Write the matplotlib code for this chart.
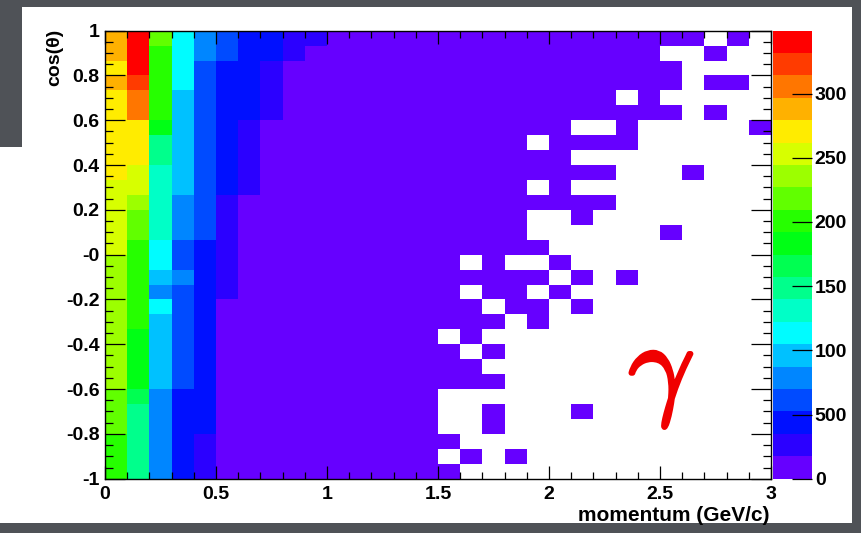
import colorsys
import numpy as np
import matplotlib
matplotlib.use("Agg")
import matplotlib.pyplot as plt
import matplotlib.patheffects as pe
from matplotlib.colors import ListedColormap, BoundaryNorm
from matplotlib.patches import Polygon
from matplotlib.ticker import MultipleLocator

# Step 1: histogram binning (momentum in GeV/c, cos(theta))
mom_min, mom_max, n_mom = 0.0, 3.0, 30
cos_min, cos_max, n_cos = -1.0, 1.0, 30
z_max = 349

# Step 2: bin contents, one list per cos(theta) row, top row (cos ~ 1) first
counts_top_down = [
    [290, 345, 215, 118, 85, 62, 50, 44, 32, 20, 15, 14, 13, 12, 11, 10, 9, 8, 7, 6, 5, 5, 4, 4, 3, 3, 2, 0, 2, 0],
    [288, 343, 202, 117, 84, 60, 48, 42, 24, 16, 15, 14, 13, 12, 11, 10, 9, 8, 7, 6, 5, 5, 4, 4, 3, 0, 0, 2, 0, 0],
    [275, 333, 200, 116, 66, 46, 38, 28, 16, 15, 15, 14, 13, 12, 11, 10, 9, 8, 7, 6, 5, 5, 4, 4, 3, 3, 0, 0, 0, 0],
    [286, 322, 198, 115, 65, 45, 37, 26, 16, 15, 15, 14, 13, 12, 11, 10, 9, 8, 7, 6, 5, 5, 4, 4, 3, 3, 0, 2, 2, 0],
    [274, 308, 196, 98, 64, 44, 36, 24, 16, 15, 15, 14, 13, 12, 11, 10, 9, 8, 7, 6, 5, 5, 4, 0, 3, 0, 0, 0, 0, 0],
    [272, 298, 194, 97, 64, 44, 36, 22, 16, 15, 15, 14, 13, 12, 11, 10, 9, 8, 7, 6, 5, 5, 4, 4, 3, 3, 0, 2, 0, 0],
    [270, 275, 180, 96, 63, 43, 30, 16, 15, 15, 15, 14, 13, 12, 11, 10, 9, 8, 7, 6, 5, 0, 0, 4, 0, 0, 0, 0, 0, 1],
    [268, 266, 152, 90, 62, 42, 28, 16, 15, 15, 15, 14, 13, 12, 11, 10, 9, 8, 7, 0, 5, 5, 4, 4, 0, 0, 0, 0, 0, 0],
    [266, 264, 150, 89, 60, 40, 26, 16, 15, 14, 15, 14, 13, 12, 11, 10, 9, 8, 7, 6, 5, 0, 0, 0, 0, 0, 0, 0, 0, 0],
    [264, 255, 135, 88, 58, 38, 24, 16, 15, 14, 15, 14, 13, 12, 11, 10, 9, 8, 7, 6, 5, 5, 4, 0, 0, 0, 2, 0, 0, 0],
    [258, 252, 132, 88, 56, 36, 22, 16, 15, 14, 15, 14, 13, 12, 11, 10, 9, 8, 7, 0, 5, 0, 0, 0, 0, 0, 0, 0, 0, 0],
    [256, 240, 126, 78, 54, 34, 16, 15, 15, 14, 15, 14, 13, 12, 11, 10, 9, 8, 7, 6, 5, 5, 4, 0, 0, 0, 0, 0, 0, 0],
    [252, 222, 124, 76, 53, 33, 16, 15, 15, 14, 15, 14, 13, 12, 11, 10, 9, 8, 7, 0, 0, 5, 0, 0, 0, 0, 0, 0, 0, 0],
    [250, 215, 123, 74, 53, 32, 16, 15, 14, 14, 15, 14, 13, 12, 11, 10, 9, 8, 7, 0, 0, 0, 0, 0, 0, 3, 0, 0, 0, 0],
    [246, 205, 118, 62, 50, 32, 16, 15, 14, 14, 15, 14, 13, 12, 11, 10, 9, 8, 7, 6, 0, 0, 0, 0, 0, 0, 0, 0, 0, 0],
    [240, 202, 112, 60, 48, 30, 16, 15, 14, 13, 15, 14, 13, 12, 11, 10, 0, 8, 0, 0, 5, 0, 0, 0, 0, 0, 0, 0, 0, 0],
    [238, 200, 98, 72, 47, 28, 15, 15, 14, 13, 15, 14, 13, 12, 11, 10, 9, 8, 7, 6, 0, 5, 0, 4, 0, 0, 0, 0, 0, 0],
    [237, 199, 85, 56, 46, 24, 15, 15, 14, 13, 15, 14, 13, 12, 11, 10, 0, 8, 7, 0, 5, 0, 0, 0, 0, 0, 0, 0, 0, 0],
    [236, 198, 115, 56, 45, 16, 15, 15, 14, 13, 15, 14, 13, 12, 11, 10, 9, 0, 7, 6, 0, 5, 0, 0, 0, 0, 0, 0, 0, 0],
    [235, 196, 97, 55, 44, 15, 15, 14, 14, 13, 15, 14, 13, 12, 11, 10, 9, 8, 0, 6, 0, 0, 0, 0, 0, 0, 0, 0, 0, 0],
    [234, 188, 96, 55, 44, 15, 15, 14, 13, 13, 15, 14, 13, 12, 11, 0, 9, 0, 0, 0, 0, 0, 0, 0, 0, 0, 0, 0, 0, 0],
    [233, 187, 95, 54, 43, 15, 15, 14, 13, 13, 15, 14, 13, 12, 11, 10, 0, 8, 0, 0, 0, 0, 0, 0, 0, 0, 0, 0, 0, 0],
    [232, 186, 95, 54, 42, 14, 15, 14, 13, 12, 15, 14, 13, 12, 11, 10, 9, 0, 0, 0, 0, 0, 0, 0, 0, 0, 0, 0, 0, 0],
    [230, 184, 94, 53, 41, 14, 14, 14, 13, 12, 15, 14, 13, 12, 11, 10, 9, 8, 0, 0, 0, 0, 0, 0, 0, 0, 0, 0, 0, 0],
    [220, 162, 76, 45, 40, 14, 14, 14, 13, 12, 15, 14, 13, 12, 11, 0, 0, 0, 0, 0, 0, 0, 0, 0, 0, 0, 0, 0, 0, 0],
    [216, 152, 75, 38, 38, 13, 14, 13, 13, 12, 15, 14, 13, 12, 11, 0, 0, 8, 0, 0, 0, 5, 0, 0, 0, 0, 0, 0, 0, 0],
    [212, 150, 77, 44, 36, 13, 14, 13, 13, 12, 15, 14, 13, 12, 11, 0, 0, 8, 0, 0, 0, 0, 0, 0, 0, 0, 0, 0, 0, 0],
    [208, 148, 74, 43, 30, 12, 14, 13, 12, 12, 15, 14, 13, 12, 11, 10, 0, 0, 0, 0, 0, 0, 0, 0, 0, 0, 0, 0, 0, 0],
    [205, 146, 73, 42, 25, 12, 13, 13, 12, 12, 15, 14, 13, 12, 11, 0, 9, 0, 7, 0, 0, 0, 0, 0, 0, 0, 0, 0, 0, 0],
    [206, 145, 75, 42, 22, 12, 13, 13, 12, 12, 15, 14, 13, 12, 11, 10, 0, 0, 0, 0, 0, 0, 0, 0, 0, 0, 0, 0, 0, 0],
]

x_ticks = [0, 0.5, 1, 1.5, 2, 2.5, 3]
x_tick_labels = ["0", "0.5", "1", "1.5", "2", "2.5", "3"]
y_ticks = [-1, -0.8, -0.6, -0.4, -0.2, 0, 0.2, 0.4, 0.6, 0.8, 1]
y_tick_labels = ["-1", "-0.8", "-0.6", "-0.4", "-0.2", "-0", "0.2", "0.4", "0.6", "0.8", "1"]
z_ticks = [0, 50, 100, 150, 200, 250, 300]
z_tick_labels = ["0", "500", "100", "150", "200", "250", "300"]

# Step 3: ROOT-like palette, 20 contour levels violet -> red
n_levels = 20
pal = [colorsys.hls_to_rgb((264 * (1 - k / (n_levels - 1))) / 360.0, 0.5, 1.0) for k in range(n_levels)]
cmap = ListedColormap(pal)
norm = BoundaryNorm(np.linspace(0, z_max, n_levels + 1), n_levels)

counts = np.array(counts_top_down, dtype=float)[::-1]
counts = np.ma.masked_where(counts <= 0, counts)
x_edges = np.linspace(mom_min, mom_max, n_mom + 1)
y_edges = np.linspace(cos_min, cos_max, n_cos + 1)

plt.rcParams['font.family'] = ['Liberation Sans', 'DejaVu Sans']
plt.rcParams['font.weight'] = 'bold'

W, H = 861, 533
fig = plt.figure(figsize=(W / 100, H / 100), dpi=100, facecolor='#4f5257')

# white slide canvas behind the plot
canvas_px = [(22, 7), (852, 7), (852, 523), (0, 523), (0, 147), (22, 147)]
fig.patches.append(Polygon([(x / W, 1 - y / H) for x, y in canvas_px], closed=True,
                           transform=fig.transFigure, facecolor='white', edgecolor='none', zorder=-10))

left, right, top, bottom = 105, 771, 30.7, 478.7
ax = fig.add_axes([left / W, 1 - bottom / H, (right - left) / W, (bottom - top) / H])
mesh = ax.pcolormesh(x_edges, y_edges, counts, cmap=cmap, norm=norm)
ax.set_xlim(mom_min, mom_max)
ax.set_ylim(cos_min, cos_max)
ax.set_facecolor('white')

ax.set_xticks(x_ticks)
ax.set_xticklabels(x_tick_labels)
ax.set_yticks(y_ticks)
ax.set_yticklabels(y_tick_labels)
ax.xaxis.set_minor_locator(MultipleLocator(0.1))
ax.yaxis.set_minor_locator(MultipleLocator(0.05))
ax.tick_params(which='both', direction='in', top=True, right=True, width=0.9, labelsize=14)
ax.tick_params(axis='x', which='major', length=9.6, pad=5)
ax.tick_params(axis='x', which='minor', length=4.8)
ax.tick_params(axis='y', which='major', length=14.4, pad=4)
ax.tick_params(axis='y', which='minor', length=6)
for s in ax.spines.values():
    s.set_linewidth(1.0)

fig.text(770 / W, 1 - 515.5 / H, 'momentum (GeV/c)', ha='right', va='center', fontsize=15)
fig.text(54.5 / W, 1 - 29 / H, 'cos(\u03b8)', rotation=90, ha='center', va='top', fontsize=14)

# Step 4: palette axis
cax = fig.add_axes([773 / W, 1 - bottom / H, 39 / W, (bottom - top) / H])
cb = fig.colorbar(mesh, cax=cax, ticks=z_ticks)
cb.set_ticklabels(z_tick_labels)
cb.outline.set_visible(False)
cb.minorticks_off()
cax.tick_params(direction='in', length=14.4, width=0.9, pad=2, labelsize=14)

fig.text(661 / W, 1 - 377 / H, r'$\gamma$', color='#f00000', fontsize=84, math_fontfamily='cm',
         ha='center', va='center',
         path_effects=[pe.withStroke(linewidth=2.5, foreground='#f00000')])

fig.savefig('out.png', dpi=100, facecolor=fig.get_facecolor())
